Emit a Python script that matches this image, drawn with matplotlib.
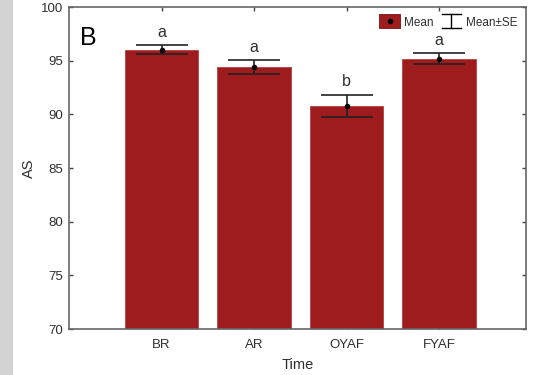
import matplotlib
matplotlib.use('Agg')
import matplotlib.pyplot as plt
from matplotlib.patches import Rectangle
from matplotlib.lines import Line2D
from matplotlib.legend_handler import HandlerBase

plt.rcParams['font.family'] = ['Liberation Sans', 'DejaVu Sans']

groups = ['BR', 'AR', 'OYAF', 'FYAF']
means = [96.0, 94.4, 90.8, 95.2]
se = [0.42, 0.65, 1.02, 0.52]
letters = ['a', 'a', 'b', 'a']

bar_color = '#9e1c1e'
spine_color = '#666666'
text_color = '#2e2e2e'


class MeanHandler(HandlerBase):
    # red box with a black dot in the middle
    def create_artists(self, legend, orig, xd, yd, w, h, fontsize, trans):
        box = Rectangle((xd, yd - 1.5), w, h + 3, facecolor=bar_color,
                        edgecolor='#7a1010', lw=0.6, transform=trans)
        dot = Line2D([xd + w / 2], [yd + h / 2], marker='o', ms=3,
                     color='black', transform=trans)
        return [box, dot]


class SEHandler(HandlerBase):
    # error bar glyph
    def create_artists(self, legend, orig, xd, yd, w, h, fontsize, trans):
        cx = xd + w / 2
        top, bot = yd + h + 1.5, yd - 1.5
        lines = [
            Line2D([cx, cx], [bot, top], color='black', lw=1, transform=trans),
            Line2D([xd + 1, xd + w - 1], [top, top], color='black', lw=1, transform=trans),
            Line2D([xd + 1, xd + w - 1], [bot, bot], color='black', lw=1, transform=trans),
        ]
        return lines


fig = plt.figure(figsize=(5.51, 3.75), dpi=100)
fig.patch.set_facecolor('white')

# grey strip along the left edge
fig.add_artist(Rectangle((0, 0), 13 / 551, 1, transform=fig.transFigure,
                         facecolor='#d2d2d2', edgecolor='none'))

ax = fig.add_axes([69 / 551, 1 - 329 / 375, (526 - 69) / 551, (329 - 7) / 375])

x = list(range(1, len(groups) + 1))
ax.bar(x, [m - 70 for m in means], bottom=70, width=0.79, color=bar_color,
       edgecolor='#b84040', linewidth=0.6, zorder=2)
ax.errorbar(x, means, yerr=se, fmt='o', ms=3, color='black', ecolor='#222222',
            elinewidth=1.2, capsize=19, capthick=1.2, zorder=3)

for xi, m, s, lab in zip(x, means, se, letters):
    ax.text(xi, m + s + 1.2, lab, ha='center', va='center', fontsize=11.5,
            color=text_color)

ax.text(0.025, 0.905, 'B', transform=ax.transAxes, fontsize=18,
        ha='left', va='center', color='black')

ax.set_xlim(0, 4.94)
ax.set_ylim(70, 100)
ax.set_yticks([70, 75, 80, 85, 90, 95, 100])
ax.set_xticks(x)
ax.set_xticklabels(groups)

for sp in ax.spines.values():
    sp.set_color(spine_color)
    sp.set_linewidth(1.2)

ax.tick_params(direction='in', length=3, width=1, color='#444444',
               top=True, right=True, labelsize=9.5, labelcolor=text_color, pad=4)
ax.tick_params(axis='x', pad=7)

ax.set_xlabel('Time', fontsize=10.5, color=text_color, labelpad=5)
ax.set_ylabel('AS', fontsize=10.5, color=text_color, labelpad=4)

ax.legend([Rectangle((0, 0), 1, 1), Line2D([], [])], ['Mean', 'Mean±SE'],
          handler_map={Rectangle: MeanHandler(), Line2D: SEHandler()},
          loc='upper right', bbox_to_anchor=(1.0, 0.995), ncol=2,
          frameon=False, fontsize=8.5, handlelength=1.8, handleheight=0.8,
          handletextpad=0.35, columnspacing=0.6, labelcolor=text_color,
          borderaxespad=0.3)

fig.savefig('out.png', dpi=100, facecolor=fig.get_facecolor())
plt.close(fig)
